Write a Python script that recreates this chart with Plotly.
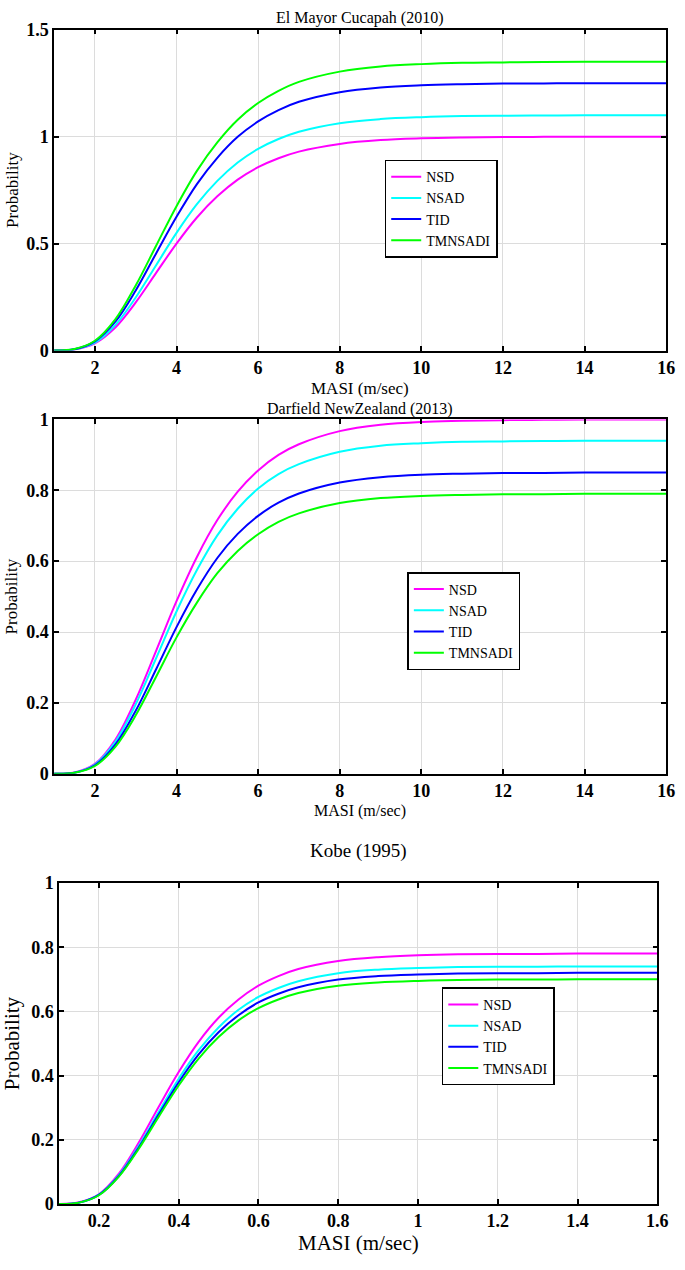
import plotly.graph_objects as go

# ---------------- data ----------------
series_names = ["NSD", "NSAD", "TID", "TMNSADI"]
series_colors = ["#ff00ff", "#00ffff", "#0000ff", "#00ff00"]

# Panel 1: El Mayor Cucapah (2010)
x1 = [1, 1.5, 2, 2.5, 3, 3.5, 4, 4.5, 5, 5.5, 6, 6.5, 7, 8, 9, 10, 11, 12, 13, 14, 15, 16]
p1_nsd = [0, 0.005, 0.034, 0.108, 0.225, 0.363, 0.5, 0.622, 0.721, 0.799, 0.857, 0.899, 0.930, 0.966, 0.984, 0.992, 0.996, 0.998, 0.999, 1.0, 1.0, 1.0]
p1_nsad = [0, 0.006, 0.037, 0.119, 0.248, 0.399, 0.55, 0.684, 0.793, 0.879, 0.943, 0.989, 1.023, 1.063, 1.082, 1.091, 1.096, 1.098, 1.099, 1.1, 1.1, 1.1]
p1_tid = [0, 0.006, 0.043, 0.135, 0.281, 0.454, 0.625, 0.778, 0.901, 0.999, 1.071, 1.124, 1.163, 1.208, 1.230, 1.240, 1.245, 1.248, 1.249, 1.25, 1.25, 1.25]
p1_tmnsadi = [0, 0.007, 0.046, 0.146, 0.304, 0.490, 0.675, 0.840, 0.973, 1.079, 1.157, 1.214, 1.256, 1.304, 1.328, 1.339, 1.345, 1.347, 1.349, 1.35, 1.35, 1.35]

# Panel 2: Darfield NewZealand (2013)
x2 = [1, 1.5, 2, 2.5, 3, 3.5, 4, 4.5, 5, 5.5, 6, 6.5, 7, 8, 9, 10, 11, 12, 13, 14, 15, 16]
p2_nsd = [0, 0.004, 0.028, 0.096, 0.209, 0.347, 0.487, 0.612, 0.716, 0.796, 0.856, 0.900, 0.930, 0.967, 0.985, 0.993, 0.996, 0.998, 0.999, 1.0, 1.0, 1.0]
p2_nsad = [0, 0.003, 0.026, 0.090, 0.196, 0.326, 0.458, 0.575, 0.673, 0.748, 0.805, 0.846, 0.874, 0.909, 0.926, 0.933, 0.937, 0.938, 0.939, 0.94, 0.94, 0.94]
p2_tid = [0, 0.003, 0.024, 0.082, 0.178, 0.295, 0.414, 0.520, 0.609, 0.677, 0.728, 0.765, 0.791, 0.822, 0.837, 0.844, 0.847, 0.849, 0.849, 0.85, 0.85, 0.85]
p2_tmnsadi = [0, 0.003, 0.022, 0.076, 0.165, 0.274, 0.385, 0.483, 0.566, 0.629, 0.676, 0.711, 0.735, 0.764, 0.778, 0.784, 0.787, 0.789, 0.789, 0.79, 0.79, 0.79]

# Panel 3: Kobe (1995)
x3 = [0.1, 0.15, 0.2, 0.25, 0.3, 0.35, 0.4, 0.45, 0.5, 0.55, 0.6, 0.65, 0.7, 0.8, 0.9, 1.0, 1.1, 1.2, 1.3, 1.4, 1.5, 1.6]
p3_nsd = [0, 0.005, 0.030, 0.094, 0.191, 0.303, 0.411, 0.505, 0.580, 0.637, 0.680, 0.710, 0.732, 0.757, 0.769, 0.775, 0.778, 0.779, 0.779, 0.78, 0.78, 0.78]
p3_nsad = [0, 0.004, 0.029, 0.090, 0.181, 0.287, 0.390, 0.479, 0.550, 0.605, 0.645, 0.673, 0.694, 0.719, 0.730, 0.735, 0.738, 0.739, 0.739, 0.74, 0.74, 0.74]
p3_tid = [0, 0.004, 0.028, 0.087, 0.176, 0.279, 0.379, 0.466, 0.535, 0.588, 0.628, 0.655, 0.675, 0.699, 0.710, 0.715, 0.718, 0.719, 0.719, 0.72, 0.72, 0.72]
p3_tmnsadi = [0, 0.004, 0.027, 0.085, 0.172, 0.272, 0.369, 0.453, 0.520, 0.572, 0.610, 0.637, 0.657, 0.680, 0.690, 0.695, 0.698, 0.699, 0.699, 0.70, 0.70, 0.70]

titles = ["El Mayor Cucapah (2010)", "Darfield NewZealand (2013)", "Kobe (1995)"]
x_label = "MASI (m/sec)"
y_label = "Probability"

x1_ticks = [2, 4, 6, 8, 10, 12, 14, 16]
y1_ticks = [0, 0.5, 1, 1.5]
y1_ticklabels = ["0", "0.5", "1", "1.5"]
x2_ticks = [2, 4, 6, 8, 10, 12, 14, 16]
y2_ticks = [0, 0.2, 0.4, 0.6, 0.8, 1]
y2_ticklabels = ["0", "0.2", "0.4", "0.6", "0.8", "1"]
x3_ticks = [0.2, 0.4, 0.6, 0.8, 1, 1.2, 1.4, 1.6]
x3_ticklabels = ["0.2", "0.4", "0.6", "0.8", "1", "1.2", "1.4", "1.6"]
y3_ticks = [0, 0.2, 0.4, 0.6, 0.8, 1]
y3_ticklabels = ["0", "0.2", "0.4", "0.6", "0.8", "1"]

# ---------------- figure ----------------
W, H = 685, 1270
SERIF = "Liberation Serif, Times New Roman, serif"

fig = go.Figure()

panels = [
    (x1, [p1_nsd, p1_nsad, p1_tid, p1_tmnsadi], "x", "y", "legend"),
    (x2, [p2_nsd, p2_nsad, p2_tid, p2_tmnsadi], "x2", "y2", "legend2"),
    (x3, [p3_nsd, p3_nsad, p3_tid, p3_tmnsadi], "x3", "y3", "legend3"),
]
for xs, ys_list, xa, ya, lg in panels:
    for name, color, ys in zip(series_names, series_colors, ys_list):
        fig.add_trace(go.Scatter(
            x=xs, y=ys, name=name, mode="lines",
            line=dict(color=color, width=2, shape="spline", smoothing=1.0),
            xaxis=xa, yaxis=ya, legend=lg, showlegend=True,
        ))

def px_x(a, b):
    return [a / W, b / W]

def px_y(top, bottom):
    return [1 - bottom / H, 1 - top / H]

def axis_common(tick_size):
    return dict(
        showline=True, linecolor="black", linewidth=1.5, mirror="ticks",
        ticks="inside", ticklen=5, tickwidth=1.5, tickcolor="black",
        showgrid=True, gridcolor="#dcdcdc", gridwidth=1,
        zeroline=False,
        tickfont=dict(family=SERIF, size=tick_size, color="black", weight="bold"),
    )

def legend_box(x, y, size):
    return dict(
        x=x / W, y=1 - y / H, xanchor="left", yanchor="top",
        bgcolor="white", bordercolor="black", borderwidth=1.5,
        font=dict(family=SERIF, size=size, color="black"),
        itemwidth=30, tracegroupgap=0,
    )

def text_ann(text, xp, yp, size, angle=0):
    return dict(text=text, x=xp / W, y=1 - yp / H, xref="paper", yref="paper",
                showarrow=False, xanchor="center", yanchor="middle", textangle=angle,
                font=dict(family=SERIF, size=size, color="black"))

layout = dict(
    width=W, height=H, autosize=False,
    margin=dict(l=0, r=0, t=0, b=0, pad=0),
    paper_bgcolor="white", plot_bgcolor="white",
    # panel 1
    xaxis=dict(domain=px_x(55, 677), range=[1, 16], tickvals=x1_ticks, anchor="y", **axis_common(18)),
    yaxis=dict(domain=px_y(20, 346), range=[0, 1.5], tickvals=y1_ticks, ticktext=y1_ticklabels, anchor="x",
               **axis_common(18)),
    # panel 2
    xaxis2=dict(domain=px_x(55, 677), range=[1, 16], tickvals=x2_ticks, anchor="y2", **axis_common(18)),
    yaxis2=dict(domain=px_y(416, 776), range=[0, 1], tickvals=y2_ticks, ticktext=y2_ticklabels, anchor="x2",
                **axis_common(18)),
    # panel 3
    xaxis3=dict(domain=px_x(60, 668), range=[0.1, 1.6], tickvals=x3_ticks, ticktext=x3_ticklabels, anchor="y3",
                **axis_common(18)),
    yaxis3=dict(domain=px_y(887, 1213), range=[0, 1], tickvals=y3_ticks, ticktext=y3_ticklabels, anchor="x3",
                **axis_common(18)),
    legend=legend_box(391, 152, 14),
    legend2=legend_box(414, 571, 14),
    legend3=legend_box(449, 993, 14),
    annotations=[
        text_ann(titles[0], (55 + 677) / 2, 8, 16),
        text_ann(titles[1], (55 + 677) / 2, 405, 16),
        text_ann(titles[2], (60 + 668) / 2, 854, 19),
        text_ann(x_label, (55 + 677) / 2, 385, 17),
        text_ann(x_label, (55 + 677) / 2, 814, 16),
        text_ann(x_label, (60 + 668) / 2, 1253, 21),
        text_ann(y_label, 12, 183, 17, -90),
        text_ann(y_label, 12, 596, 17, -90),
        text_ann(y_label, 13, 1050, 21, -90),
    ],
)
fig.update_layout(**layout)

page_fix = (
    "var h=document.documentElement,b=document.body;"
    "h.style.margin='0';h.style.padding='0';h.style.overflow='hidden';"
    "b.style.margin='0';b.style.padding='0';b.style.overflow='hidden';"
)
fig.write_html("out.html", config={"displayModeBar": False, "responsive": False}, post_script=page_fix)
